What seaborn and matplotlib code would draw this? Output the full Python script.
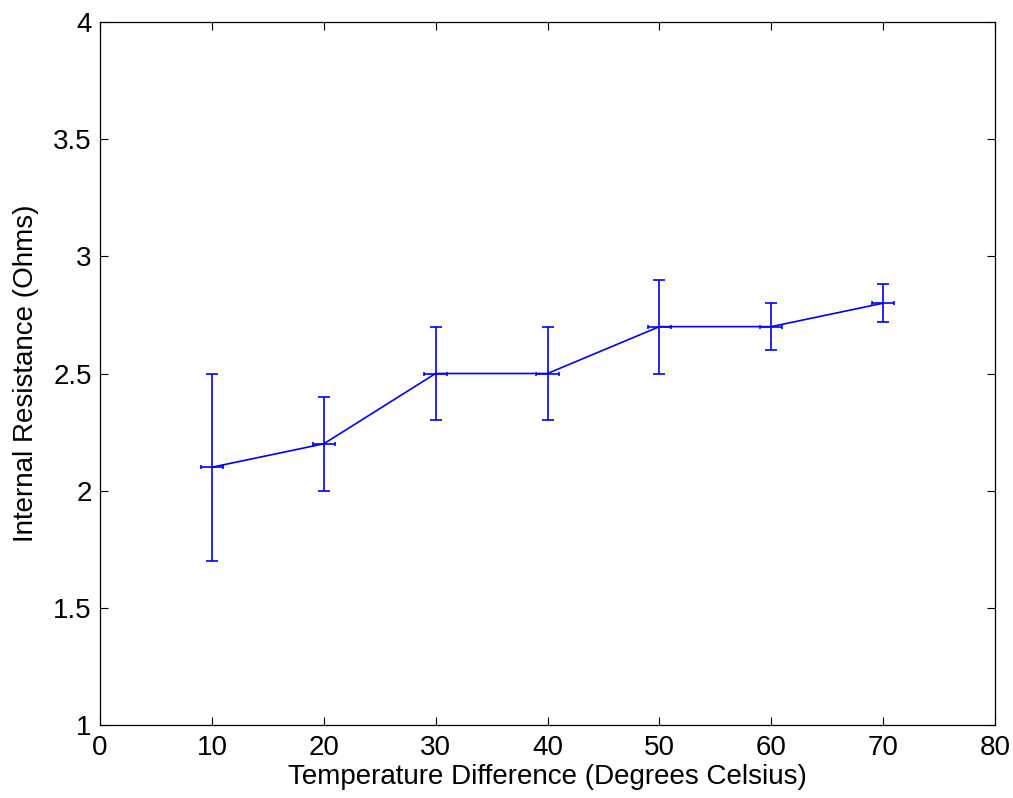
import matplotlib
matplotlib.use("Agg")
import matplotlib.pyplot as plt
import seaborn as sns
import pandas as pd

temp_diff = [10, 20, 30, 40, 50, 60, 70]
resistance = [2.1, 2.2, 2.5, 2.5, 2.7, 2.7, 2.8]
res_err = [0.4, 0.2, 0.2, 0.2, 0.2, 0.1, 0.08]
temp_err = [1.0, 1.0, 1.0, 1.0, 1.0, 1.0, 1.0]

sns.set_style("ticks")
plt.rcParams['font.family'] = ['Liberation Sans', 'DejaVu Sans']
plt.rcParams['xtick.direction'] = 'in'
plt.rcParams['ytick.direction'] = 'in'
plt.rcParams['text.color'] = 'black'
plt.rcParams['axes.labelcolor'] = 'black'

df = pd.DataFrame({"x": temp_diff, "y": resistance})

fig = plt.figure(figsize=(10.13, 7.98), dpi=100)
ax = fig.add_axes([100/1013, 1-725/798, 895/1013, 703/798])

blue = (0, 0, 1)
sns.lineplot(data=df, x="x", y="y", ax=ax, color=blue, linewidth=1.2)
ax.errorbar(temp_diff, resistance, yerr=res_err, fmt='none', ecolor=blue,
            elinewidth=1.2, capsize=4.5, capthick=1.2)
ax.errorbar(temp_diff, resistance, xerr=temp_err, fmt='none', ecolor=blue,
            elinewidth=1.2, capsize=1.2, capthick=1.2)

ax.set_xlim(0, 80)
ax.set_ylim(1, 4)
ax.set_xticks([0, 10, 20, 30, 40, 50, 60, 70, 80])
ax.set_yticks([1, 1.5, 2, 2.5, 3, 3.5, 4])
ax.set_yticklabels(["1", "1.5", "2", "2.5", "3", "3.5", "4"])
ax.tick_params(axis='both', which='both', direction='in', top=True, right=True,
               labelsize=20, length=6, width=0.8, colors='black',
               labelcolor='black')
ax.tick_params(axis='x', pad=7)
ax.tick_params(axis='y', pad=6)
for s in ax.spines.values():
    s.set_visible(True)
    s.set_color('black')
    s.set_linewidth(0.9)
ax.set_xlabel("Temperature Difference (Degrees Celsius)", fontsize=20,
              labelpad=2, color='black')
ax.set_ylabel("Internal Resistance (Ohms)", fontsize=20, labelpad=10,
              color='black')

fig.savefig("out.png", dpi=100)
